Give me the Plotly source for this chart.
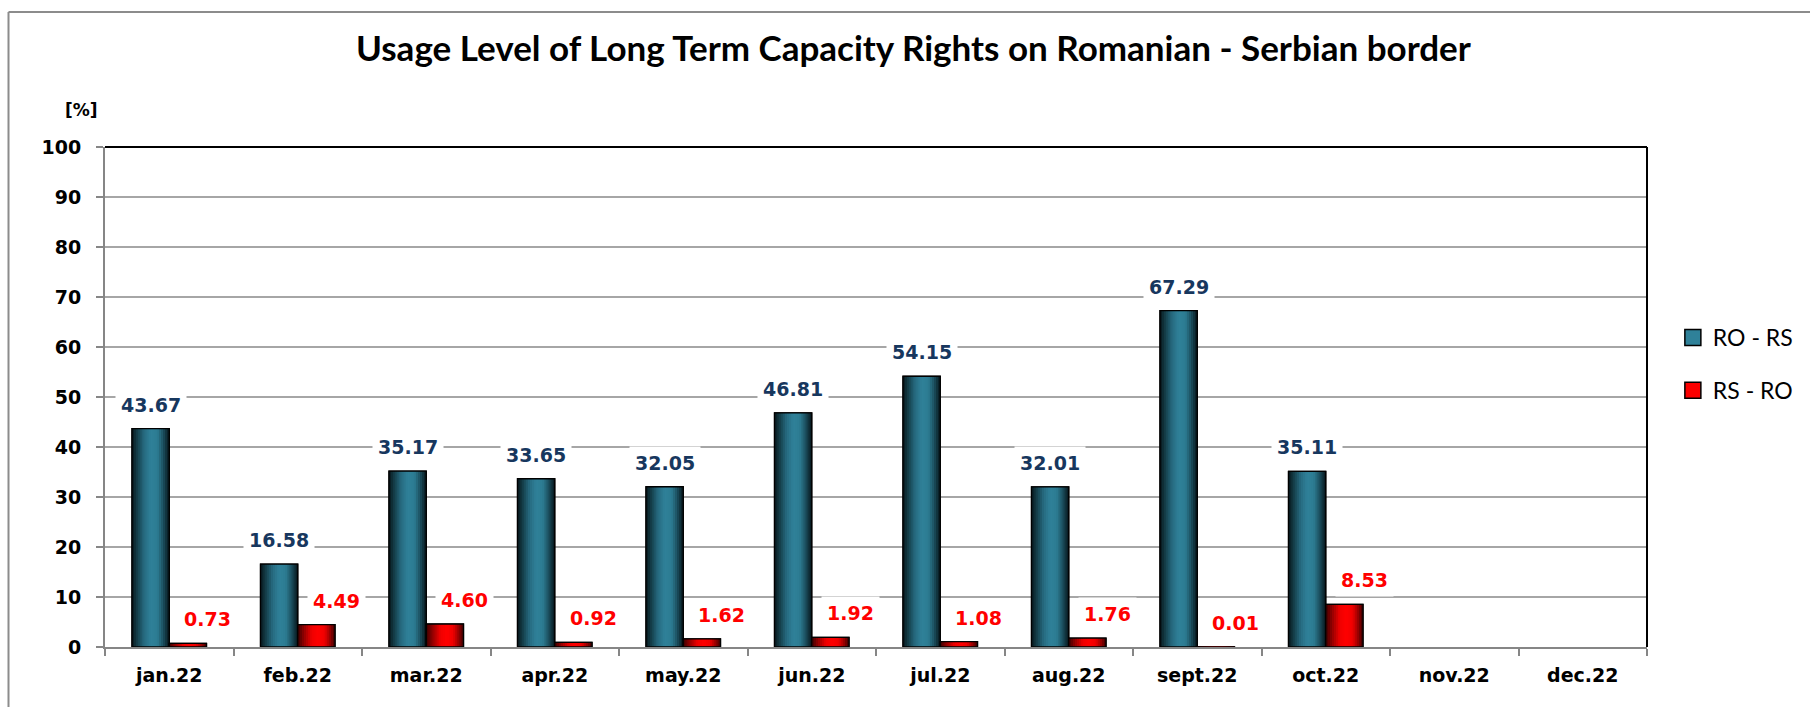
import plotly.graph_objects as go

# ---------------- data ----------------
months = ["jan.22", "feb.22", "mar.22", "apr.22", "may.22", "jun.22",
          "jul.22", "aug.22", "sept.22", "oct.22", "nov.22", "dec.22"]
ro_rs = [43.67, 16.58, 35.17, 33.65, 32.05, 46.81, 54.15, 32.01, 67.29, 35.11, None, None]
rs_ro = [0.73, 4.49, 4.60, 0.92, 1.62, 1.92, 1.08, 1.76, 0.01, 8.53, None, None]
y_ticks = list(range(0, 101, 10))
series_names = ["RO - RS", "RS - RO"]

# ---------------- styling ----------------
W, H = 1810, 707
ML, MR, MT, MB = 105, 155, 147, 60
PW, PH = W - ML - MR, H - MT - MB

BAR_W = 0.29
NSTRIP = 18

blue_stops = [(0.0, "#08161b"), (0.12, "#123842"), (0.32, "#266a7f"), (0.5, "#2f8199"),
              (0.68, "#2d7c93"), (0.84, "#1b4e5d"), (1.0, "#07151a")]
red_stops = [(0.0, "#3a0000"), (0.15, "#8a0000"), (0.38, "#f00000"), (0.55, "#ff0000"),
             (0.72, "#f00000"), (0.88, "#900000"), (1.0, "#3a0000")]


def hex2rgb(h):
    h = h.lstrip("#")
    return tuple(int(h[i:i + 2], 16) for i in (0, 2, 4))


def interp(stops, t):
    for (t0, c0), (t1, c1) in zip(stops[:-1], stops[1:]):
        if t0 <= t <= t1:
            f = (t - t0) / (t1 - t0) if t1 > t0 else 0
            a, b = hex2rgb(c0), hex2rgb(c1)
            return "rgb(%d,%d,%d)" % tuple(round(a[i] + (b[i] - a[i]) * f) for i in range(3))
    return stops[-1][1]


fig = go.Figure()

series = [
    (series_names[0], ro_rs, -BAR_W, blue_stops, "#2f8199"),
    (series_names[1], rs_ro, 0.0, red_stops, "#ff0000"),
]

for gi, (name, vals, base, stops, mid) in enumerate(series):
    # base bar
    fig.add_trace(go.Bar(
        x=months, y=vals, name=name, offset=base, width=BAR_W,
        marker=dict(color=mid, line=dict(color="#000000", width=1.2)),
        legendgroup=name, showlegend=False, hoverinfo="x+y+name",
    ))
    # gradient strips
    sw = BAR_W / NSTRIP
    for k in range(NSTRIP):
        t = (k + 0.5) / NSTRIP
        off = base + k * sw
        wid = min(sw * 1.4, base + BAR_W - off)
        fig.add_trace(go.Bar(
            x=months, y=vals, offset=off, width=wid,
            marker=dict(color=interp(stops, t), line=dict(width=0)),
            showlegend=False, hoverinfo="skip", legendgroup=name,
        ))
    # outline on top
    fig.add_trace(go.Bar(
        x=months, y=vals, offset=base, width=BAR_W,
        marker=dict(color="rgba(0,0,0,0)", line=dict(color="#000000", width=1.3)),
        showlegend=False, hoverinfo="skip", legendgroup=name,
    ))
    # legend entry (larger square symbol)
    fig.add_trace(go.Scatter(
        x=[None], y=[None], mode="markers", name=name, legendgroup=name,
        marker=dict(symbol="square", size=16, color=interp(stops, 0.5),
                    line=dict(color="#000000", width=1.5)),
        showlegend=True, hoverinfo="skip",
    ))

# data labels with white background
annotations = []
for i, v in enumerate(ro_rs):
    if v is None:
        continue
    annotations.append(dict(
        x=i - BAR_W / 2, y=v, xref="x", yref="y", text="%.2f" % v,
        showarrow=False, yanchor="bottom", xanchor="center", yshift=7,
        bgcolor="#ffffff", borderpad=5,
        font=dict(family="DejaVu Sans", size=19, color="#17375E", weight="bold"),
    ))
for i, v in enumerate(rs_ro):
    if v is None:
        continue
    annotations.append(dict(
        x=i + BAR_W / 2 + 0.155, y=v, xref="x", yref="y", text="%.2f" % v,
        showarrow=False, yanchor="bottom", xanchor="center", yshift=7,
        bgcolor="#ffffff", borderpad=5,
        font=dict(family="DejaVu Sans", size=19, color="#FF0000", weight="bold"),
    ))

# title and unit label
annotations.append(dict(
    x=(918 - ML) / PW, y=(MT + PH - 47) / PH, xref="paper", yref="paper",
    text="Usage Level of Long Term Capacity Rights on Romanian - Serbian border",
    showarrow=False, xanchor="center", yanchor="middle",
    font=dict(family="Lato", size=35, color="#000000", weight="bold"),
))
annotations.append(dict(
    x=(81 - ML) / PW, y=(MT + PH - 110) / PH, xref="paper", yref="paper",
    text="[%]", showarrow=False, xanchor="center", yanchor="middle",
    font=dict(family="DejaVu Sans", size=17, color="#000000", weight="bold"),
))

# borders
shapes = [
    dict(type="line", xref="paper", yref="paper", x0=0, x1=1, y0=1, y1=1,
         line=dict(color="#000000", width=2)),
    dict(type="line", xref="paper", yref="paper", x0=1, x1=1, y0=0, y1=1,
         line=dict(color="#000000", width=2)),
    dict(type="line", xref="paper", yref="paper", x0=(8 - ML) / PW, x1=(8 - ML) / PW,
         y0=-0.3, y1=(MT + PH - 12) / PH, line=dict(color="#8c8c8c", width=2)),
    dict(type="line", xref="paper", yref="paper", x0=(8 - ML) / PW, x1=1.2,
         y0=(MT + PH - 12) / PH, y1=(MT + PH - 12) / PH, line=dict(color="#8c8c8c", width=2)),
]

fig.update_layout(
    width=W, height=H,
    margin=dict(l=ML, r=MR, t=MT, b=MB, pad=0),
    paper_bgcolor="#ffffff", plot_bgcolor="#ffffff",
    barmode="overlay",
    showlegend=True,
    legend=dict(
        x=(1681 - ML) / PW, y=(MT + PH - 316) / PH, xanchor="left", yanchor="top",
        font=dict(family="Lato", size=23, color="#000000"),
        tracegroupgap=20, bgcolor="rgba(0,0,0,0)", itemclick=False,
    ),
    annotations=annotations,
    shapes=shapes,
    xaxis=dict(
        type="category", categoryorder="array", categoryarray=months,
        range=[-0.5, len(months) - 0.5],
        showgrid=False, zeroline=False,
        showline=True, linecolor="#868686", linewidth=2,
        ticks="outside", tickson="boundaries", ticklen=7, tickwidth=2, tickcolor="#868686",
        tickfont=dict(family="DejaVu Sans", size=19, color="#000000", weight="bold"),
        ticklabelstandoff=10,
    ),
    yaxis=dict(
        range=[0, 100], tickvals=y_ticks,
        showgrid=True, gridcolor="#a6a6a6", gridwidth=2,
        zeroline=False,
        showline=True, linecolor="#868686", linewidth=2,
        ticks="outside", ticklen=7, tickwidth=2, tickcolor="#868686",
        tickfont=dict(family="DejaVu Sans", size=19, color="#000000", weight="bold"),
        ticklabelstandoff=11,
    ),
)

fig.write_html("out.html",
               config={"displayModeBar": False},
               post_script="document.body.style.margin='0';document.body.style.overflow='hidden';")
